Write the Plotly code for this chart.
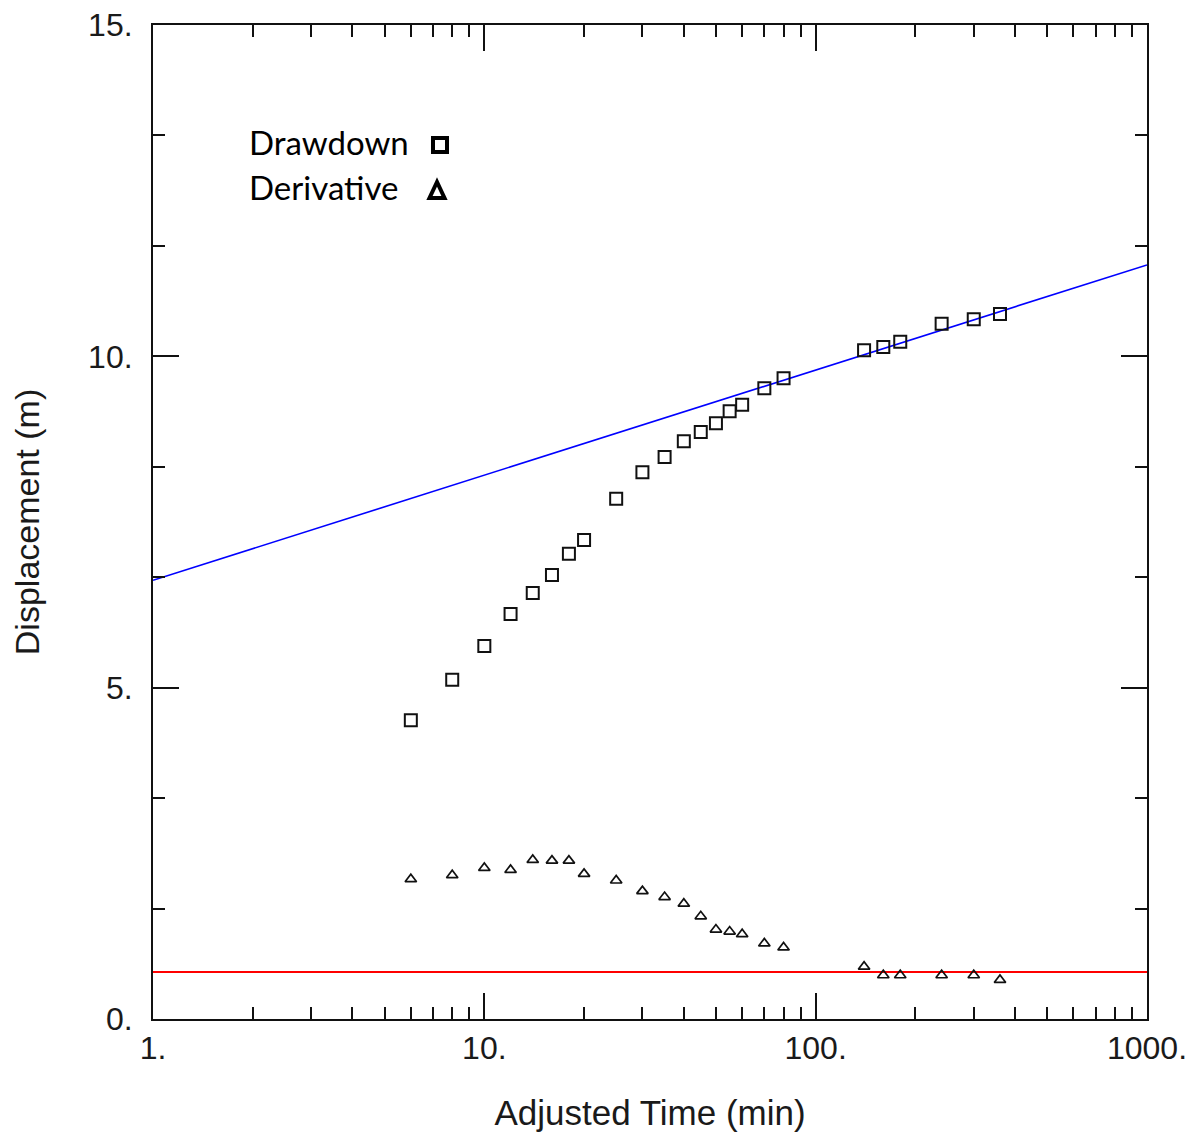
import plotly.graph_objects as go

# ---- data ----
time_min = [6, 8, 10, 12, 14, 16, 18, 20, 25, 30, 35, 40, 45, 50, 55, 60, 70, 80,
            140, 160, 180, 240, 300, 360]
drawdown = [4.51, 5.12, 5.63, 6.11, 6.43, 6.70, 7.02, 7.23, 7.85, 8.25, 8.48, 8.72,
            8.86, 8.99, 9.17, 9.27, 9.52, 9.67, 10.09, 10.14, 10.22, 10.49, 10.56, 10.64]
derivative = [2.11, 2.17, 2.28, 2.25, 2.40, 2.39, 2.39, 2.19, 2.09, 1.93, 1.84, 1.74,
              1.55, 1.35, 1.32, 1.28, 1.14, 1.08, 0.79, 0.66, 0.66, 0.66, 0.66, 0.59]

fit_time = [1, 1000]
fit_drawdown = [6.62, 11.38]
fit_derivative = [0.71, 0.71]

x_tickvals = [1, 10, 100, 1000]
x_ticktext = ["1.", "10.", "100.", "1000."]
x_minor = [2, 3, 4, 5, 6, 7, 8, 9, 20, 30, 40, 50, 60, 70, 80, 90,
           200, 300, 400, 500, 600, 700, 800, 900]
y_tickvals = [0, 5, 10, 15]
y_ticktext = ["0.", "5.", "10.", "15."]
y_minor = [5 / 3, 10 / 3, 20 / 3, 25 / 3, 35 / 3, 40 / 3]

# ---- layout geometry (page pixels; page body has an 8px margin) ----
OFF = 8
W, H = 1195 - OFF, 1132 - OFF
PL, PR, PT, PB = 153, 1147, 25, 1019          # plot area on the page
L, T = PL - OFF, PT - OFF
R, B = W + OFF - PR, H + OFF - PB
PW, PH = PR - PL, PB - PT


def px(x):
    return (x - PL) / PW


def py(y):
    return (PB - y) / PH


fig = go.Figure()

fig.add_trace(go.Scatter(x=fit_time, y=fit_drawdown, mode="lines",
                         line=dict(color="#0000ff", width=1.6), showlegend=False))
fig.add_trace(go.Scatter(x=fit_time, y=fit_derivative, mode="lines",
                         line=dict(color="#ff0000", width=2), showlegend=False))
fig.add_trace(go.Scatter(x=time_min, y=drawdown, mode="markers", name="Drawdown",
                         marker=dict(symbol="square-open", size=12, color="#111",
                                     line=dict(width=2, color="#111")),
                         showlegend=False))
fig.add_trace(go.Scatter(x=time_min, y=derivative, mode="markers", name="Derivative",
                         marker=dict(symbol="triangle-up-open", size=10, color="#111",
                                     line=dict(width=1.7, color="#111")),
                         showlegend=False))

axis_font = dict(family="Liberation Sans, Arial, sans-serif", size=32, color="#1a1a1a")

fig.update_xaxes(type="log", range=[0, 3], tickvals=x_tickvals, ticktext=x_ticktext,
                 ticks="inside", ticklen=26, tickwidth=1.6, tickcolor="#111",
                 showline=True, linecolor="#111", linewidth=2, mirror="ticks",
                 showgrid=False, zeroline=False, tickfont=axis_font,
                 ticklabelstandoff=0, automargin=False, ticklabeloverflow="allow",
                 minor=dict(tickvals=x_minor, ticks="inside", ticklen=12,
                            tickwidth=1.6, tickcolor="#111", showgrid=False),
                 title=dict(text="Adjusted Time (min)", standoff=35,
                            font=dict(family="Liberation Sans, Arial, sans-serif",
                                      size=35, color="#1a1a1a")))
fig.update_yaxes(range=[0, 15], tickvals=y_tickvals, ticktext=y_ticktext,
                 ticks="inside", ticklen=26, tickwidth=1.6, tickcolor="#111",
                 showline=True, linecolor="#111", linewidth=2, mirror="ticks",
                 showgrid=False, zeroline=False, tickfont=axis_font,
                 ticklabelstandoff=12, automargin=False, ticklabeloverflow="allow",
                 minor=dict(tickvals=y_minor, ticks="inside", ticklen=12,
                            tickwidth=1.6, tickcolor="#111", showgrid=False),
                 title=dict(text="Displacement (m)", standoff=40,
                            font=dict(family="Liberation Sans, Arial, sans-serif",
                                      size=34, color="#1a1a1a")))

legend_font = dict(family="Lato, Open Sans, sans-serif", size=33, color="#000")
fig.add_annotation(x=px(247), y=py(142), xref="paper", yref="paper", text="Drawdown",
                   showarrow=False, xanchor="left", yanchor="middle", font=legend_font)
fig.add_annotation(x=px(247), y=py(187), xref="paper", yref="paper", text="Derivative",
                   showarrow=False, xanchor="left", yanchor="middle", font=legend_font)

# legend key symbols
fig.add_shape(type="rect", xref="paper", yref="paper",
              x0=px(433), x1=px(447), y0=py(152), y1=py(138),
              line=dict(color="#000", width=4))
tri = "M {:.5f} {:.5f} L {:.5f} {:.5f} L {:.5f} {:.5f} Z".format(
    px(437), py(182), px(429.5), py(198), px(444.5), py(198))
fig.add_shape(type="path", xref="paper", yref="paper", path=tri,
              line=dict(color="#000", width=4))

fig.update_layout(width=W, height=H, margin=dict(l=L, r=R, t=T, b=B, autoexpand=False),
                  plot_bgcolor="white", paper_bgcolor="white", showlegend=False)

fig.write_html("out.html")
